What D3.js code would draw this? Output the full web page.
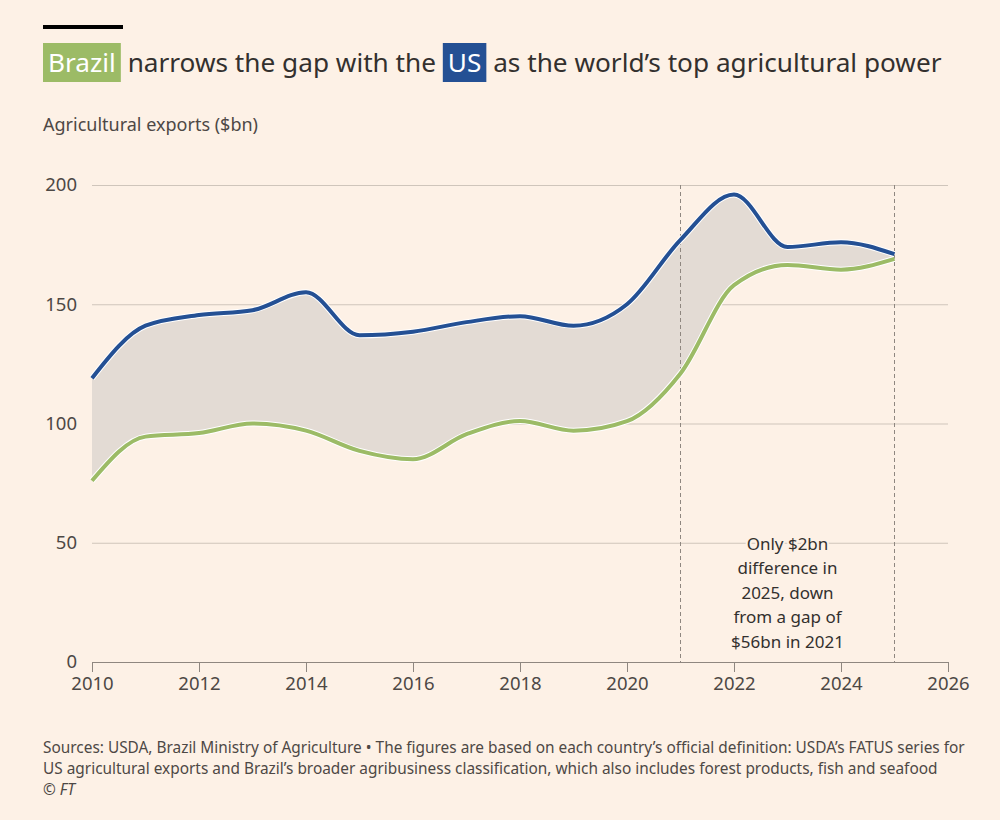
<!DOCTYPE html>
<html>
<head>
    <meta charset="utf-8">
    <script src="https://cdnjs.cloudflare.com/ajax/libs/d3/7.8.5/d3.min.js"></script>
    <style>
        body { margin: 0; background: #fdf1e6; }
        text { font-family: "Noto Sans", sans-serif; fill: #33302e; }
        .tick text { font-size: 18.5px; fill: #4d4845; }
    </style>
</head>
<body>
    <div id="chart"></div>
    <script>
        // data
        var years = [2010, 2011, 2012, 2013, 2014, 2015, 2016, 2017, 2018, 2019, 2020, 2021, 2022, 2023, 2024, 2025];
        var us = [119, 141, 145.5, 147.5, 155, 137, 138.5, 142.5, 145, 141, 150, 177, 196, 174, 176, 171];
        var brazil = [76, 94.5, 96, 100, 97, 88.5, 85, 95.5, 101, 97, 101, 121, 158, 166.5, 164.5, 169];
        var yTicks = [0, 50, 100, 150, 200];
        var xTicks = [2010, 2012, 2014, 2016, 2018, 2020, 2022, 2024, 2026];
        var markerYears = [2021, 2025];
        var noteLines = ["Only $2bn", "difference in", "2025, down", "from a gap of", "$56bn in 2021"];

        var W = 1000, H = 820;
        var margin = { top: 185, right: 52, bottom: 158, left: 92 };
        var width = W - margin.left - margin.right,
            height = H - margin.top - margin.bottom;

        var svg = d3.select("#chart").append("svg")
            .attr("width", W).attr("height", H);

        svg.append("rect").attr("width", W).attr("height", H).attr("fill", "#fdf1e6");

        // top black bar
        svg.append("rect").attr("x", 43).attr("y", 25).attr("width", 80).attr("height", 4).attr("fill", "#000");

        // title with highlighted country names
        var titleParts = [
            { t: "Brazil", bg: "#9cbb66" },
            { t: " narrows the gap with the " },
            { t: "US", bg: "#245094" },
            { t: " as the world\u2019s top agricultural power" }
        ];
        var title = svg.append("g");
        var tx = 48;
        titleParts.forEach(function (p) {
            var txt = title.append("text")
                .attr("x", tx).attr("y", 72)
                .style("font-size", "26.2px")
                .style("white-space", "pre")
                .text(p.t);
            var w = txt.node().getComputedTextLength();
            if (p.bg) {
                title.insert("rect", "text")
                    .attr("x", tx - 5).attr("y", 43)
                    .attr("width", w + 10).attr("height", 39)
                    .attr("fill", p.bg);
                txt.style("fill", "#fff");
            }
            tx += w + 5;
        });

        svg.append("text").attr("x", 43).attr("y", 131)
            .style("font-size", "18px").style("fill", "#4d4845")
            .text("Agricultural exports ($bn)");

        var g = svg.append("g").attr("transform", "translate(" + margin.left + "," + margin.top + ")");

        var x = d3.scaleLinear().domain([2010, 2026]).range([0, width]);
        var y = d3.scaleLinear().domain([0, 200]).range([height, 0]);

        // grid + y labels
        var yAxis = g.append("g")
            .call(d3.axisLeft(y).tickValues(yTicks).tickSize(-width).tickPadding(15));
        yAxis.select(".domain").remove();
        yAxis.selectAll(".tick line").attr("stroke", "#cfc5bb");

        var data = years.map(function (yr, i) { return { year: yr, us: us[i], br: brazil[i] }; });
        var curve = d3.curveMonotoneX;

        // gap area
        g.append("path").datum(data)
            .attr("fill", "#e3dbd4")
            .attr("d", d3.area().curve(curve)
                .x(function (d) { return x(d.year); })
                .y0(function (d) { return y(d.br); })
                .y1(function (d) { return y(d.us); }));

        // marker lines
        g.selectAll(".marker").data(markerYears).enter().append("line")
            .attr("x1", function (d) { return x(d); }).attr("x2", function (d) { return x(d); })
            .attr("y1", 0).attr("y2", height)
            .attr("stroke", "#8f8780").attr("stroke-width", 1).attr("stroke-dasharray", "4,3");

        // x axis
        var xAxis = g.append("g").attr("transform", "translate(0," + height + ")")
            .call(d3.axisBottom(x).tickValues(xTicks).tickFormat(d3.format("d")).tickSize(10).tickPadding(5));
        xAxis.selectAll("line, path").attr("stroke", "#8f8780");

        // lines
        function drawLine(key, color) {
            var line = d3.line().curve(curve)
                .x(function (d) { return x(d.year); })
                .y(function (d) { return y(d[key]); });
            g.append("path").datum(data).attr("fill", "none")
                .attr("stroke", "#fff").attr("stroke-width", 6).attr("d", line);
            g.append("path").datum(data).attr("fill", "none")
                .attr("stroke", color).attr("stroke-width", 4).attr("d", line);
        }
        drawLine("br", "#9cbb66");
        drawLine("us", "#245094");

        // annotation
        var note = g.append("text")
            .attr("x", x(2023)).attr("y", y(50) + 7)
            .attr("text-anchor", "middle")
            .style("font-size", "17px")
            .style("paint-order", "stroke")
            .style("stroke", "#fdf1e6").style("stroke-width", 4);
        note.selectAll("tspan").data(noteLines).enter().append("tspan")
            .attr("x", x(2023)).attr("dy", function (d, i) { return i ? 24.5 : 0; })
            .text(function (d) { return d; });

        // footer
        var foot = [
            "Sources: USDA, Brazil Ministry of Agriculture \u2022 The figures are based on each country\u2019s official definition: USDA\u2019s FATUS series for",
            "US agricultural exports and Brazil\u2019s broader agribusiness classification, which also includes forest products, fish and seafood"
        ];
        foot.forEach(function (s, i) {
            svg.append("text").attr("x", 43).attr("y", 753 + i * 21)
                .style("font-size", "15.4px").style("fill", "#4d4845").text(s);
        });
        var c = svg.append("text").attr("x", 43).attr("y", 795)
            .style("font-size", "15.4px").style("fill", "#4d4845");
        c.append("tspan").text("\u00a9 ");
        c.append("tspan").style("font-style", "italic").text("FT");
    </script>
</body>
</html>
